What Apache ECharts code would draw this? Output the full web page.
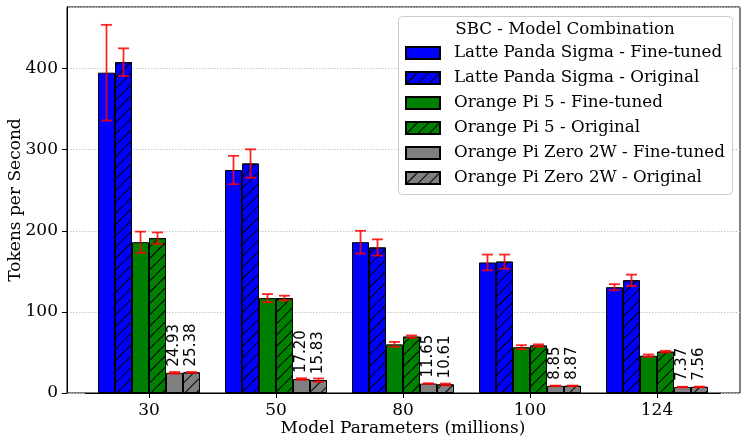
<!DOCTYPE html>
<html>
<head>
<meta charset="utf-8">
<script src="https://cdn.jsdelivr.net/npm/echarts@6/dist/echarts.min.js"></script>
<style>html,body{margin:0;padding:0;background:#fff}#c{width:748px;height:445px}</style>
</head>
<body>
<div id="c"></div>
<script>
var categories = ['30', '50', '80', '100', '124'];
var seriesNames = [
  'Latte Panda Sigma - Fine-tuned',
  'Latte Panda Sigma - Original',
  'Orange Pi 5 - Fine-tuned',
  'Orange Pi 5 - Original',
  'Orange Pi Zero 2W - Fine-tuned',
  'Orange Pi Zero 2W - Original'
];
var lpsFine = [395, 275, 186, 161, 130.5];
var lpsFineErr = [59, 17.5, 14, 9.7, 3.7];
var lpsOrig = [408, 283, 179.5, 162, 139];
var lpsOrigErr = [17, 17.5, 10, 8.7, 7];
var opi5Fine = [186, 117, 60, 56.5, 46];
var opi5FineErr = [13, 5, 3, 2.5, 1.5];
var opi5Orig = [191, 117, 69.5, 58.5, 51];
var opi5OrigErr = [7, 3, 1.5, 1.5, 1];
var opizFine = [24.93, 17.20, 11.65, 8.85, 7.37];
var opizFineErr = [1, 1, 0.3, 0.3, 0.3];
var opizOrig = [25.38, 15.83, 10.61, 8.87, 7.56];
var opizOrigErr = [0.5, 2, 1, 0.3, 0.3];
var yTicks = [0, 100, 200, 300, 400];

var values = [lpsFine, lpsOrig, opi5Fine, opi5Orig, opizFine, opizOrig];
var errs = [lpsFineErr, lpsOrigErr, opi5FineErr, opi5OrigErr, opizFineErr, opizOrigErr];
var colors = ['#0000ff', '#0000ff', '#008000', '#008000', '#808080', '#808080'];
var hatched = [false, true, false, true, false, true];

var BW = 17;
var YMAX = 476;
var SERIF = 'DejaVu Serif';

var hatchDecal = {
  symbol: 'rect', symbolSize: 1,
  dashArrayX: [1, 0], dashArrayY: [1, 7],
  rotation: -Math.PI / 4, color: '#000'
};

var series = [];
values.forEach(function (vals, k) {
  var s = {
    name: seriesNames[k], type: 'bar', xAxisIndex: 1, yAxisIndex: 1,
    barWidth: BW, barGap: '0%', data: vals,
    itemStyle: { color: colors[k], borderColor: '#000', borderWidth: 1 },
    emphasis: { disabled: true },
    z: 2
  };
  if (hatched[k]) s.itemStyle.decal = hatchDecal;
  if (k >= 4) {
    s.label = {
      show: true, position: 'top', rotate: 90, align: 'left', verticalAlign: 'middle',
      distance: 6, fontSize: 15, fontFamily: 'DejaVu Sans', color: '#000',
      formatter: function (p) { return p.value.toFixed(2); }
    };
  }
  series.push(s);
});
values.forEach(function (vals, k) {
  series.push({
    type: 'custom', xAxisIndex: 1, yAxisIndex: 1, z: 5, silent: true,
    data: vals.map(function (v, i) { return [i, v, errs[k][i]]; }),
    encode: { x: 0, y: 1 },
    renderItem: function (params, api) {
      var i = api.value(0), v = api.value(1), e = api.value(2);
      var c = api.coord([i, v]);
      var hi = api.coord([i, v + e]);
      var lo = api.coord([i, v - e]);
      var x = c[0] + (k - 2.5) * BW;
      var st = { stroke: 'rgba(255,0,0,0.85)', lineWidth: 1.8 };
      return {
        type: 'group', children: [
          { type: 'line', shape: { x1: x, y1: hi[1], x2: x, y2: lo[1] }, style: st },
          { type: 'line', shape: { x1: x - 5.5, y1: hi[1], x2: x + 5.5, y2: hi[1] }, style: st },
          { type: 'line', shape: { x1: x - 5.5, y1: lo[1], x2: x + 5.5, y2: lo[1] }, style: st }
        ]
      };
    }
  });
});

var chart = echarts.init(document.getElementById('c'), null, { renderer: 'canvas' });
chart.setOption({
  animation: false,
  backgroundColor: '#fff',
  grid: [
    { left: 67, right: 8, top: 7, bottom: 52, show: true, borderColor: '#000', borderWidth: 1,
      backgroundColor: 'transparent', containLabel: false, outerBoundsMode: 'none' },
    { left: 85.5, right: 27.5, top: 7, bottom: 52, containLabel: false, outerBoundsMode: 'none' }
  ],
  xAxis: [
    { type: 'value', gridIndex: 0, min: 0, max: 1, show: false },
    {
      type: 'category', gridIndex: 1, data: categories, boundaryGap: true,
      axisLine: { show: true, lineStyle: { color: '#000', width: 1 } },
      axisTick: { show: true, alignWithLabel: true, interval: 0, length: 5, lineStyle: { color: '#000' } },
      axisLabel: { interval: 0, margin: 9, fontSize: 17, fontFamily: SERIF, color: '#000' },
      name: 'Model Parameters (millions)', nameLocation: 'middle', nameGap: 27, nameMoveOverlap: false,
      nameTextStyle: { fontSize: 17, fontFamily: SERIF, color: '#000' }
    }
  ],
  yAxis: [
    {
      type: 'value', gridIndex: 0, min: 0, max: YMAX, interval: 100,
      axisLine: { show: true, lineStyle: { color: '#000', width: 1 } },
      axisTick: { show: true, length: 5, lineStyle: { color: '#000' } },
      axisLabel: { margin: 9, fontSize: 17, fontFamily: SERIF, color: '#000', showMaxLabel: false,
        formatter: function (v) { return yTicks.indexOf(v) >= 0 ? String(v) : ''; } },
      splitLine: { show: true, lineStyle: { color: '#c8c8c8', type: [1.5, 1.5], width: 1 } },
      name: 'Tokens per Second', nameLocation: 'middle', nameGap: 43, nameRotate: 90, nameMoveOverlap: false,
      nameTextStyle: { fontSize: 17, fontFamily: SERIF, color: '#000' }
    },
    { type: 'value', gridIndex: 1, min: 0, max: YMAX, show: false, splitLine: { show: false } }
  ],
  legend: {
    orient: 'vertical', left: 405, top: 44.5, padding: 0, z: 10,
    itemWidth: 34, itemHeight: 12, itemGap: 8, icon: 'rect',
    selectedMode: false,
    data: seriesNames,
    textStyle: { fontSize: 16.7, fontFamily: SERIF, color: '#000', lineHeight: 17, padding: [0, 0, 0, 9] }
  },
  graphic: [
    { type: 'rect', z: 8, left: 398, top: 16, shape: { width: 334, height: 178, r: 4 },
      style: { fill: 'rgba(255,255,255,0.85)', stroke: '#cccccc', lineWidth: 1 } },
    { type: 'text', z: 9, x: 565, y: 21,
      style: { text: 'SBC - Model Combination', fontSize: 16.7, fontFamily: SERIF, fill: '#000', textAlign: 'center', textVerticalAlign: 'top' } }
  ],
  series: series
});
</script>
</body>
</html>
